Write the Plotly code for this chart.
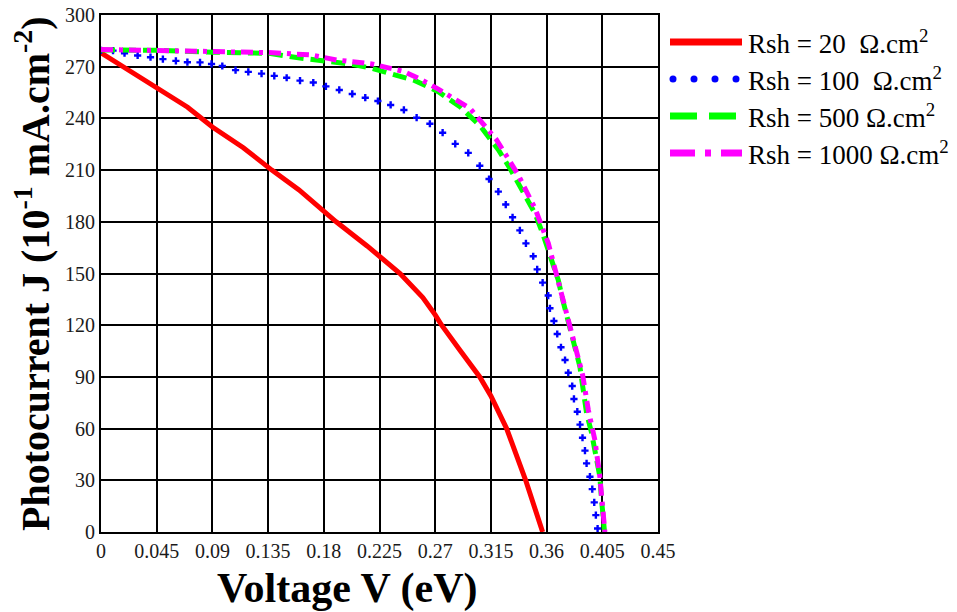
import plotly.graph_objects as go

# ---------------- data ----------------
x_ticks = [0, 0.045, 0.09, 0.135, 0.18, 0.225, 0.27, 0.315, 0.36, 0.405, 0.45]
x_ticktext = ["0", "0.045", "0.09", "0.135", "0.18", "0.225", "0.27", "0.315", "0.36", "0.405", "0.45"]
y_ticks = [0, 30, 60, 90, 120, 150, 180, 210, 240, 270, 300]

series_names = ["Rsh = 20\u00a0\u00a0Ω.cm<sup>2</sup>",
                "Rsh = 100\u00a0\u00a0Ω.cm<sup>2</sup>",
                "Rsh = 500 Ω.cm<sup>2</sup>",
                "Rsh = 1000 Ω.cm<sup>2</sup>"]

v_20 = [0, 0.045, 0.07, 0.09, 0.115, 0.138, 0.16, 0.19, 0.215, 0.2416, 0.26, 0.27,
        0.2752, 0.29, 0.306, 0.315, 0.3277, 0.3431, 0.3568]
j_20 = [278, 258, 246.5, 235, 223, 210, 198.5, 180, 166, 150, 136, 126,
        120, 105.5, 90, 79, 60, 30, 0]

v_100 = [0, 0.0097, 0.019, 0.0296, 0.040, 0.050, 0.0605, 0.0698, 0.080, 0.0893, 0.098,
         0.1087, 0.119, 0.1297, 0.140, 0.150, 0.1608, 0.1715, 0.1817, 0.1925, 0.203,
         0.2135, 0.2237, 0.234, 0.2447, 0.255, 0.2657, 0.276, 0.2862, 0.2967, 0.306,
         0.3135, 0.321, 0.327, 0.3325, 0.3384, 0.3433, 0.3492, 0.3524, 0.3568, 0.3613,
         0.3627, 0.3659, 0.3686, 0.3716, 0.3749, 0.3775, 0.3807, 0.3821, 0.3848, 0.387,
         0.389, 0.391, 0.3923, 0.395, 0.3969, 0.3985, 0.3998, 0.4012]
j_100 = [279.5, 279.3, 277.8, 276.5, 275.5, 274.4, 273.4, 272.6, 272.5, 271.6, 270.4,
         268, 267, 266, 264.7, 263.6, 261.9, 260.8, 258.6, 256.5, 254.2,
         252, 250.1, 247.8, 244.9, 240.4, 236.9, 231.7, 225.2, 220, 212.5,
         204.8, 197.5, 190, 182.6, 175, 167.5, 160, 152.4, 144.7, 137.2,
         129.8, 122.4, 114.9, 107.2, 99.8, 92.4, 84.7, 77.2, 69.8, 62.3,
         54.7, 47.2, 39.8, 32.1, 24.9, 17.2, 9.8, 2]

v_500 = [0, 0.045, 0.09, 0.135, 0.1608, 0.1823, 0.2011, 0.2187, 0.236, 0.2537, 0.2725,
         0.290, 0.3065, 0.321, 0.3304, 0.3411, 0.3506, 0.3568, 0.3627, 0.3694, 0.3734,
         0.3783, 0.3829, 0.3869, 0.3896, 0.3923, 0.3964, 0.4004, 0.403, 0.4044, 0.4068]
j_500 = [279.7, 279.5, 278.4, 277.8, 275, 273, 271.6, 269.1, 265.2, 261.9, 255.5,
         246.8, 235.5, 221.8, 211, 197.5, 184.9, 173.3, 159.8, 146.2, 133.6,
         119.1, 105.6, 95.9, 82.4, 68.9, 57.3, 43.8, 32.2, 18.7, 0]

v_1000 = [0, 0.045, 0.09, 0.135, 0.17, 0.1903, 0.2187, 0.2443, 0.2577, 0.2725, 0.2981,
          0.3196, 0.3371, 0.3506, 0.3614, 0.3681, 0.3757, 0.383, 0.3891, 0.3937, 0.399,
          0.403, 0.4057, 0.4071]
j_1000 = [280, 279.7, 278.8, 278.2, 276.8, 273.9, 271.6, 267.3, 262.9, 257, 245.8,
          227.5, 207.2, 187.8, 167.5, 149, 128.8, 109.5, 91.1, 70.8, 53.4,
          32.2, 14.7, 0]

# ---------------- figure ----------------
W, H = 957, 612
L, R, T, B = 101, 299, 15, 80
PW, PH = W - L - R, H - T - B


def px2paper_x(px):
    return (px - L) / PW


def px2paper_y(py):
    return (H - B - py) / PH


serif = "Liberation Serif"

fig = go.Figure()
fig.add_trace(go.Scatter(x=v_20, y=j_20, mode="lines", name=series_names[0],
                         line=dict(color="#ff0000", width=5), showlegend=False))
fig.add_trace(go.Scatter(x=v_100, y=j_100, mode="markers", name=series_names[1],
                         marker=dict(color="#0000ff", symbol="cross", size=6),
                         showlegend=False))
fig.add_trace(go.Scatter(x=v_500, y=j_500, mode="lines", name=series_names[2],
                         line=dict(color="#00ff00", width=5, dash="14px,7px"),
                         showlegend=False))
fig.add_trace(go.Scatter(x=v_1000, y=j_1000, mode="lines", name=series_names[3],
                         line=dict(color="#ff00ff", width=5, dash="12px,6px,4px,6px"),
                         showlegend=False))

# ---------------- custom legend (drawn as layout decoration) ----------------
shapes = []
annotations = []
row_py = [42, 79, 116, 153]
lx0, lx1 = px2paper_x(670), px2paper_x(742)
legend_styles = [
    dict(color="#ff0000", width=7, dash="solid"),
    None,
    dict(color="#00ff00", width=7, dash="27px,12px"),
    dict(color="#ff00ff", width=7, dash="25px,10px,6px,10px"),
]
for i, py in enumerate(row_py):
    yp = px2paper_y(py)
    if legend_styles[i] is not None:
        shapes.append(dict(type="line", xref="paper", yref="paper",
                           x0=lx0, x1=lx1, y0=yp, y1=yp, line=legend_styles[i]))
    else:
        for dx in [673, 694, 715, 736]:
            shapes.append(dict(type="circle", xref="paper", yref="paper",
                               xsizemode="pixel", ysizemode="pixel",
                               xanchor=px2paper_x(dx), yanchor=yp,
                               x0=-3.5, x1=3.5, y0=-3.5, y1=3.5,
                               fillcolor="#0000ff", line=dict(width=0)))
    annotations.append(dict(text=series_names[i], xref="paper", yref="paper",
                            x=px2paper_x(746), y=yp, xanchor="left", yanchor="middle",
                            showarrow=False,
                            font=dict(family=serif, size=27, color="#000000")))

# axis titles
annotations.append(dict(text="<b>Voltage V (eV)</b>", xref="paper", yref="paper",
                        x=px2paper_x(347), y=px2paper_y(588), xanchor="center",
                        yanchor="middle", showarrow=False,
                        font=dict(family=serif, size=42, color="#000000")))
annotations.append(dict(text="<b>Photocurrent J (10<sup>-1</sup> mA.cm<sup>-2</sup>)</b>",
                        xref="paper", yref="paper",
                        x=px2paper_x(32), y=px2paper_y(274), xanchor="center",
                        yanchor="middle", textangle=-90, showarrow=False,
                        font=dict(family=serif, size=40, color="#000000")))

axis_common = dict(showgrid=True, gridcolor="#000000", gridwidth=2,
                   showline=True, linecolor="#000000", linewidth=2, mirror=True,
                   zeroline=False, ticks="", automargin=False,
                   tickfont=dict(family=serif, size=20, color="#1a1a1a"))

fig.update_layout(
    width=W, height=H,
    margin=dict(l=L, r=R, t=T, b=B, pad=0, autoexpand=False),
    paper_bgcolor="white", plot_bgcolor="white",
    xaxis=dict(range=[0, 0.45], tickvals=x_ticks, ticktext=x_ticktext, **axis_common),
    yaxis=dict(range=[0, 300], tickvals=y_ticks, **axis_common),
    shapes=shapes, annotations=annotations, showlegend=False,
)

fig.write_html("out.html")
